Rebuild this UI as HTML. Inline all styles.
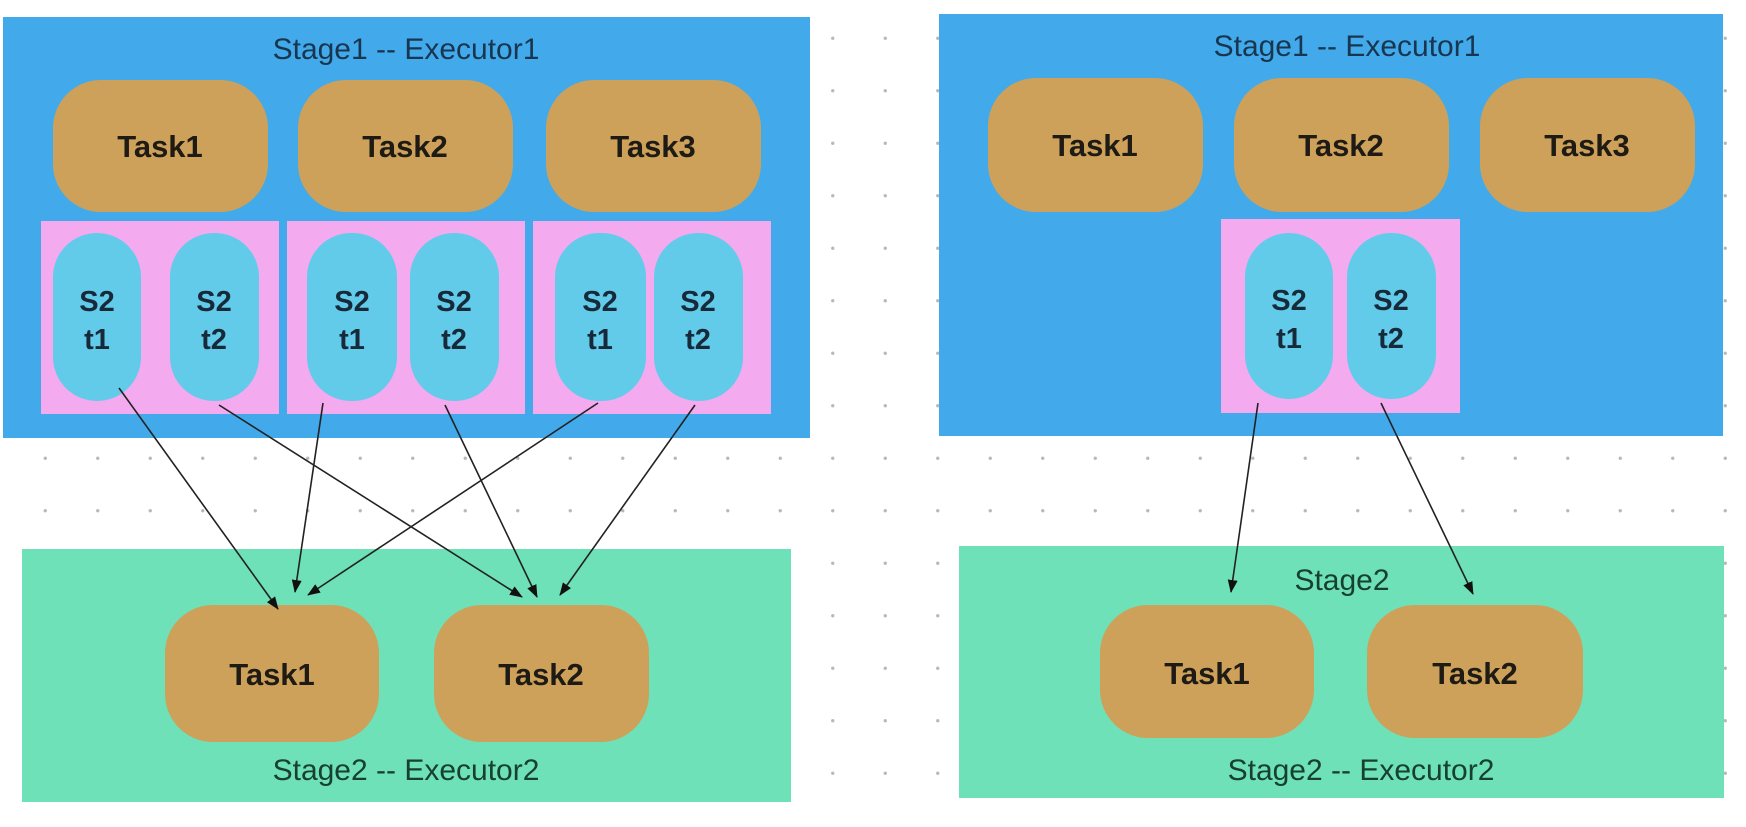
<!DOCTYPE html>
<html><head><meta charset="utf-8"><style>
html,body{margin:0;padding:0;width:1746px;height:827px;overflow:hidden;background:#fff;}
body{background-image:radial-gradient(circle,#b8b8b8 1.4px,transparent 2px);background-size:52.5px 52.5px;background-position:19px 12px;background-repeat:repeat;}
.mask{position:absolute;left:0;top:812px;width:1746px;height:15px;background:#fff}
svg{position:absolute;left:0;top:0}
.tk{font:bold 31px "Liberation Sans",sans-serif;fill:#1e1a14;text-anchor:middle}
.pl{font:bold 29px "Liberation Sans",sans-serif;fill:#172a3a;text-anchor:middle}
.tt{font:30px "Liberation Sans",sans-serif;fill:#183650;text-anchor:middle}
.tg{font:30px "Liberation Sans",sans-serif;fill:#17402f;text-anchor:middle}
</style></head><body>
<div class="mask"></div>
<svg width="1746" height="827" viewBox="0 0 1746 827">
<defs><marker id="a" markerWidth="13" markerHeight="10" refX="12" refY="5" orient="auto" markerUnits="userSpaceOnUse"><path d="M0,0 L13,5 L0,10 z" fill="#111"/></marker></defs>
<!-- left -->
<rect x="3" y="17" width="807" height="421" fill="#42aaea"/>
<text class="tt" x="406" y="59">Stage1 -- Executor1</text>
<g fill="#cda15a">
<rect x="53" y="80" width="215" height="132" rx="48"/>
<rect x="298" y="80" width="215" height="132" rx="48"/>
<rect x="546" y="80" width="215" height="132" rx="48"/>
</g>
<text class="tk" x="160" y="157">Task1</text><text class="tk" x="405" y="157">Task2</text><text class="tk" x="653" y="157">Task3</text>
<g fill="#f3aaee">
<rect x="41" y="221" width="238" height="193"/><rect x="287" y="221" width="238" height="193"/><rect x="533" y="221" width="238" height="193"/>
</g>
<g fill="#63cbea">
<rect x="53" y="233" width="88" height="168" rx="44"/><rect x="170" y="233" width="89" height="168" rx="44"/>
<rect x="307" y="233" width="90" height="168" rx="44"/><rect x="410" y="233" width="89" height="168" rx="44"/>
<rect x="555" y="233" width="91" height="168" rx="44"/><rect x="654" y="233" width="89" height="168" rx="44"/>
</g>
<g>
<text class="pl" x="97" y="311">S2</text><text class="pl" x="97" y="349">t1</text>
<text class="pl" x="214" y="311">S2</text><text class="pl" x="214" y="349">t2</text>
<text class="pl" x="352" y="311">S2</text><text class="pl" x="352" y="349">t1</text>
<text class="pl" x="454" y="311">S2</text><text class="pl" x="454" y="349">t2</text>
<text class="pl" x="600" y="311">S2</text><text class="pl" x="600" y="349">t1</text>
<text class="pl" x="698" y="311">S2</text><text class="pl" x="698" y="349">t2</text>
</g>
<rect x="22" y="549" width="769" height="253" fill="#6ee1b9"/>
<rect x="165" y="605" width="214" height="137" rx="48" fill="#cda15a"/>
<rect x="434" y="605" width="215" height="137" rx="48" fill="#cda15a"/>
<text class="tk" x="272" y="685">Task1</text><text class="tk" x="541" y="685">Task2</text>
<text class="tg" x="406" y="780">Stage2 -- Executor2</text>
<g stroke="#222" stroke-width="1.6" marker-end="url(#a)">
<line x1="119" y1="388" x2="278" y2="609"/>
<line x1="219" y1="405" x2="522" y2="597"/>
<line x1="323" y1="403" x2="295" y2="592"/>
<line x1="445" y1="405" x2="537" y2="597"/>
<line x1="598" y1="403" x2="308" y2="595"/>
<line x1="695" y1="405" x2="560" y2="595"/>
</g>
<!-- right -->
<rect x="939" y="14" width="784" height="422" fill="#42aaea"/>
<text class="tt" x="1347" y="56">Stage1 -- Executor1</text>
<g fill="#cda15a">
<rect x="988" y="78" width="215" height="134" rx="48"/>
<rect x="1234" y="78" width="215" height="134" rx="48"/>
<rect x="1480" y="78" width="215" height="134" rx="48"/>
</g>
<text class="tk" x="1095" y="156">Task1</text><text class="tk" x="1341" y="156">Task2</text><text class="tk" x="1587" y="156">Task3</text>
<rect x="1221" y="219" width="239" height="194" fill="#f3aaee"/>
<rect x="1245" y="233" width="88" height="166" rx="44" fill="#63cbea"/>
<rect x="1347" y="233" width="89" height="166" rx="44" fill="#63cbea"/>
<text class="pl" x="1289" y="310">S2</text><text class="pl" x="1289" y="348">t1</text>
<text class="pl" x="1391" y="310">S2</text><text class="pl" x="1391" y="348">t2</text>
<rect x="959" y="546" width="765" height="252" fill="#6ee1b9"/>
<text class="tg" x="1342" y="590">Stage2</text>
<rect x="1100" y="605" width="214" height="133" rx="48" fill="#cda15a"/>
<rect x="1367" y="605" width="216" height="133" rx="48" fill="#cda15a"/>
<text class="tk" x="1207" y="684">Task1</text><text class="tk" x="1475" y="684">Task2</text>
<text class="tg" x="1361" y="780">Stage2 -- Executor2</text>
<g stroke="#222" stroke-width="1.6" marker-end="url(#a)">
<line x1="1258" y1="403" x2="1231" y2="592"/>
<line x1="1381" y1="403" x2="1473" y2="594"/>
</g>
</svg>
</body></html>
